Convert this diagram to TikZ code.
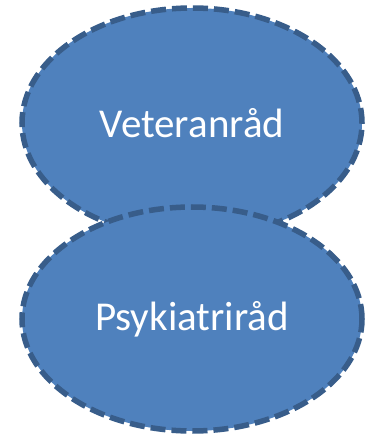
\documentclass[tikz,border=0pt]{standalone}
\usepackage{fontspec}
\setmainfont{Carlito}
\usetikzlibrary{shapes.geometric}
\definecolor{fillblue}{HTML}{4F81BD}
\definecolor{edgeblue}{HTML}{385D8A}
\tikzset{
  council/.style={ellipse, draw=edgeblue, fill=fillblue, line width=5.5pt,
    dash pattern=on 15pt off 6pt, inner sep=0pt},
  label text/.style={text=white, font=\fontsize{41}{48}\selectfont},
}
\begin{document}
\begin{tikzpicture}[x=1pt,y=-1pt]
\useasboundingbox (0,0) rectangle (366,435);
\node[council, minimum width=340pt, minimum height=230pt] (vet) at (192,123) {};
\node[label text] (vett) at (192,123) {Veteranråd};
\node[council, minimum width=340pt, minimum height=224pt] (psy) at (192,319) {};
\node[label text] (psyt) at (192,319) {Psykiatriråd};
\end{tikzpicture}
\end{document}
